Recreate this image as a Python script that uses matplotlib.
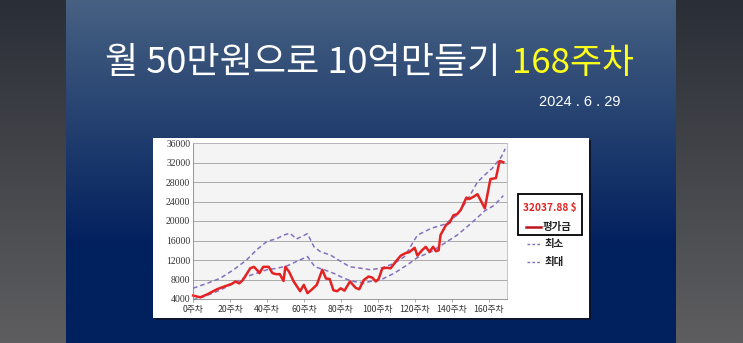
import numpy as np
import matplotlib
matplotlib.use("Agg")
import matplotlib.pyplot as plt
from matplotlib.patches import Rectangle

plt.rcParams['font.family'] = ['Noto Sans CJK KR', 'DejaVu Sans']

# 평가금 (valuation) by week
val_weeks = [0, 4, 8, 13, 16.5, 21, 23, 25, 27, 31, 33, 35.5, 36, 38, 41, 43, 45, 47, 49, 50,
             52, 54.5, 58, 60, 62, 64.5, 67, 70, 72, 74, 76, 78, 80, 82, 85, 88, 90, 92.5, 95,
             97, 99, 100.5, 102.5, 105, 107, 110, 112.5, 115, 117, 120, 121.5, 124, 126, 128,
             130, 131.5, 133, 134, 137, 139, 141, 143, 145, 148, 149.5, 152, 154, 158, 161,
             164, 166, 167, 168]
val_vals = [4700, 4350, 5000, 6000, 6500, 7100, 7600, 7200, 7900, 10300, 10600, 9600, 9300,
            10600, 10600, 9300, 9100, 9100, 7700, 10600, 9600, 7600, 5600, 6900, 5200, 6000,
            6900, 10000, 8200, 8100, 5800, 5600, 6200, 5700, 7600, 6300, 6000, 7900, 8600,
            8400, 7600, 8100, 10300, 10400, 10300, 11800, 12900, 13400, 13600, 14500, 12900,
            14000, 14700, 13700, 14700, 13800, 14000, 17100, 19200, 19700, 21200, 21400,
            22300, 24800, 24500, 25000, 25500, 22600, 28600, 28800, 32300, 32200, 32037.88]

# 최소 (lower band)
min_weeks = [0, 2, 8, 14.5, 22, 29, 34.5, 40, 45.5, 51, 56, 62, 66, 71, 76, 82, 87, 92.5, 96,
             101.5, 109, 116, 121.5, 129, 136, 143, 150.5, 158, 163, 168]
min_vals = [3900, 4000, 4800, 5800, 7200, 8600, 9300, 10000, 10300, 10800, 11700, 12700, 10600,
            10000, 9300, 8200, 7600, 7300, 7600, 7900, 9300, 11000, 12500, 13700, 15400,
            17100, 19500, 22100, 23200, 25200]

# 최대 (upper band)
max_weeks = [0, 7.5, 14.5, 22, 29, 34.5, 40, 45.5, 49, 52.5, 56, 62, 65.5, 69, 74.5, 80, 85,
             91, 96, 101.5, 109, 114.5, 121.5, 129, 136, 143, 149, 154, 159, 162, 167, 169]
max_vals = [6200, 7200, 8200, 10000, 12000, 14100, 15800, 16400, 17100, 17500, 16300, 17400,
            14700, 13700, 13000, 11700, 10600, 10300, 10000, 10300, 11300, 12700, 17100, 18500,
            19300, 21200, 24600, 28000, 29800, 30800, 33200, 34800]

y_ticks = [4000, 8000, 12000, 16000, 20000, 24000, 28000, 32000, 36000]
x_ticks = [0, 20, 40, 60, 80, 100, 120, 140, 160]
x_labels = [f"{w}주차" for w in x_ticks]

W, H = 743, 343
fig = plt.figure(figsize=(W / 100, H / 100), dpi=100)


def px(x0, y0, x1, y1):
    # pixel box (top-left origin) -> figure fraction rect
    return [x0 / W, 1 - y1 / H, (x1 - x0) / W, (y1 - y0) / H]


# outer dark background
bg = fig.add_axes([0, 0, 1, 1])
bg.axis("off")
g = np.linspace(0, 1, 256)[:, None]
c_top = np.array([0x2a, 0x2e, 0x36]) / 255
c_bot = np.array([0x5e, 0x5e, 0x60]) / 255
bg.imshow(c_top + g[..., None] * (c_bot - c_top), aspect="auto", extent=[0, 1, 0, 1])

# slide gradient
sl = fig.add_axes(px(66, 0, 676, 343))
sl.axis("off")
s_top = np.array([0x46, 0x61, 0x82]) / 255
s_bot = np.array([0x02, 0x20, 0x5e]) / 255
t = np.clip(np.linspace(0, 1, 256) * 1.4, 0, 1)[:, None]
sl.imshow(s_top + t[..., None] * (s_bot - s_top), aspect="auto", extent=[0, 1, 0, 1])

# title and date
fig.text(105 / W, 1 - 63 / H, "월 50만원으로 10억만들기", color="white", fontsize=26,
         ha="left", va="center")
fig.text(512 / W, 1 - 63 / H, "168주차", color="#ffff1a", fontsize=25,
         ha="left", va="center")
fig.text(580 / W, 1 - 102 / H, "2024 . 6 . 29", color="white", fontsize=10.5,
         ha="center", va="center", family=["Liberation Sans Narrow", "Liberation Sans"])

# white chart panel with shadow
fig.patches.append(Rectangle((155 / W, 1 - 320 / H), (589 - 153) / W, (318 - 138) / H,
                             transform=fig.transFigure, facecolor="#0b1530", zorder=1))
fig.patches.append(Rectangle((153 / W, 1 - 318 / H), (589 - 153) / W, (318 - 138) / H,
                             transform=fig.transFigure, facecolor="white", zorder=2))

ax = fig.add_axes(px(193, 143, 507, 299))
ax.set_zorder(3)
ax.set_facecolor("#f4f4f4")
ax.set_xlim(0, 170)
ax.set_ylim(4000, 36000)
ax.set_yticks(y_ticks)
ax.set_yticklabels([str(v) for v in y_ticks], fontsize=7, color="#333333",
                   family=["Liberation Serif", "DejaVu Serif"])
ax.set_xticks(x_ticks)
ax.set_xticklabels(x_labels, fontsize=6.3, color="#333333")
ax.tick_params(axis="y", length=0, pad=2)
ax.tick_params(axis="x", length=2.5, width=0.5, color="#888888", pad=1.5)
ax.grid(axis="y", color="#aaaaaa", linewidth=0.7)
ax.set_axisbelow(True)
for s in ax.spines.values():
    s.set_color("#bbbbbb")
    s.set_linewidth(0.6)
ax.spines["left"].set_color("#888888")
ax.spines["bottom"].set_color("#888888")

ax.plot(max_weeks, max_vals, color="#8470c0", lw=1.1, ls=(0, (3, 2)), clip_on=False)
ax.plot(min_weeks, min_vals, color="#8470c0", lw=1.1, ls=(0, (3, 2)), clip_on=False)
ax.plot(val_weeks, val_vals, color="#e52222", lw=1.8, clip_on=False)

# legend area
lg = fig.add_axes([0, 0, 1, 1])
lg.set_zorder(4)
lg.axis("off")
lg.set_xlim(0, W)
lg.set_ylim(H, 0)
lg.add_patch(Rectangle((518, 194), 64, 41, facecolor="none", edgecolor="black", lw=1.3))
lg.text(550, 208, f"{val_vals[-1]:.2f} $", color="#e52222", fontsize=7.3,
        ha="center", va="center", fontweight="bold")
lg.plot([526, 541], [227, 227], color="#c0141c", lw=1.8)
lg.text(543, 227, "평가금", fontsize=7.5, ha="left", va="center", color="#222222",
        fontweight="bold")
lg.plot([527, 541], [244, 244], color="#8470c0", lw=1.0, ls=(0, (2, 1.5)))
lg.text(545, 244, "최소", fontsize=7.5, ha="left", va="center", color="#222222",
        fontweight="bold")
lg.plot([527, 541], [262, 262], color="#8470c0", lw=1.0, ls=(0, (2, 1.5)))
lg.text(545, 262, "최대", fontsize=7.5, ha="left", va="center", color="#222222",
        fontweight="bold")

fig.savefig("out.png", dpi=100)
